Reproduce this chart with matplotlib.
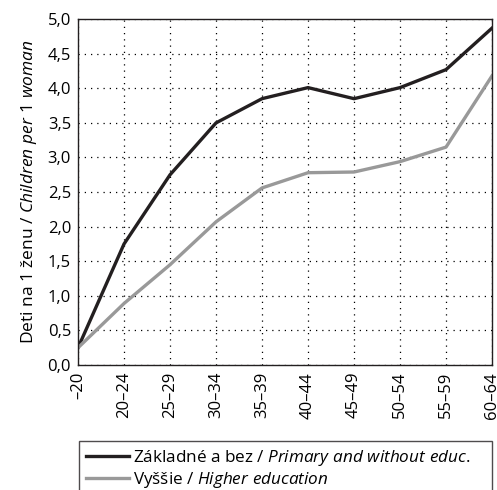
"""Fertility by education level and age group."""

import numpy as np
import matplotlib.pyplot as plt
from matplotlib.ticker import FuncFormatter

plt.rcParams['font.family'] = ['Open Sans', 'DejaVu Sans']
plt.rcParams['mathtext.fontset'] = 'custom'
plt.rcParams['mathtext.it'] = 'Open Sans:italic'
plt.rcParams['mathtext.rm'] = 'Open Sans'

age_groups = ['–20', '20–24', '25–29', '30–34', '35–39',
              '40–44', '45–49', '50–54', '55–59', '60–64']
primary = [0.25, 1.75, 2.75, 3.50, 3.85, 4.01, 3.85, 4.01, 4.27, 4.87]
higher = [0.25, 0.89, 1.45, 2.07, 2.56, 2.78, 2.79, 2.94, 3.15, 4.18]
label_primary = r'Základné a bez / $\mathit{Primary\ and\ without\ educ.}$'
label_higher = r'Vyššie / $\mathit{Higher\ education}$'

fig = plt.figure(figsize=(4.97, 4.90), dpi=100)
ax = fig.add_axes([0.157, 0.255, 0.833, 0.706])

x = np.arange(len(age_groups))
ax.plot(x, primary, color='#231f20', lw=2.4, label=label_primary)
ax.plot(x, higher, color='#999999', lw=2.4, label=label_higher)

ax.set_xlim(0, len(age_groups) - 1)
ax.set_ylim(0, 5)
ax.set_yticks(np.arange(0, 5.01, 0.5))
ax.yaxis.set_major_formatter(FuncFormatter(lambda v, p: f'{v:.1f}'.replace('.', ',')))
ax.set_xticks(x)
ax.set_xticklabels(age_groups, rotation=90)
ax.tick_params(length=0, labelsize=12, pad=5)
ax.grid(True, color='black', linestyle=(0, (1, 4)), lw=0.9)
for s in ax.spines.values():
    s.set_color('#231f20')
    s.set_linewidth(1.0)

ax.set_ylabel(r'Deti na 1 ženu / $\mathit{Children\ per\ 1\ woman}$',
              fontsize=12.5, labelpad=6)

fig.legend(loc='upper left', bbox_to_anchor=(0.159, -0.2, 0.831, 0.3),
           mode='expand', borderaxespad=0, fontsize=12.3, frameon=True,
           fancybox=False, edgecolor='#231f20', handlelength=2.5,
           handletextpad=0.25, labelspacing=0.15, borderpad=0.4)

fig.savefig('out.png', dpi=100)
